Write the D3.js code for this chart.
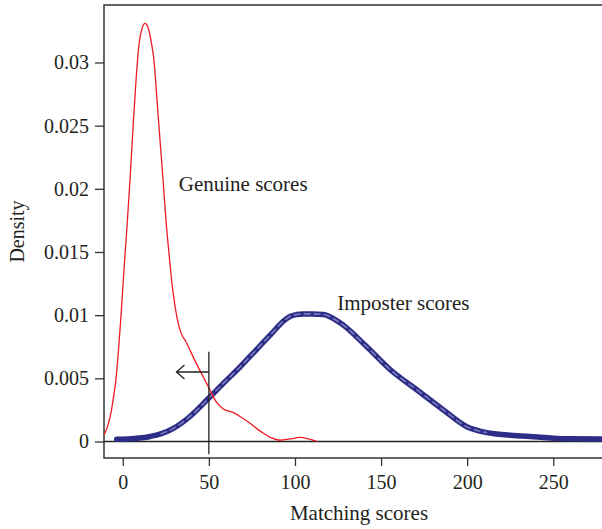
<!DOCTYPE html>
<html>
<head>
<meta charset="utf-8">
<script src="https://cdn.jsdelivr.net/npm/d3@7/dist/d3.min.js"></script>
<style>
  html, body { margin: 0; padding: 0; background: #fff; }
  svg { display: block; }
  text { font-family: "Liberation Serif", "DejaVu Serif", serif; fill: #231f20; }
</style>
</head>
<body>
<svg id="chart" width="602" height="529"></svg>
<script>
// ---- data ----
const genuineX = [-10.9, -8.6, -6.8, -5.4, -3.9, -2.5, -1.0, 0.7, 2.5, 4.2, 5.9, 7.7, 9.4, 11.2, 12.9, 14.6, 16.3, 18.1, 19.9, 21.6, 23.4, 25.1, 26.9, 29.2, 31.5, 33.8, 36.7, 41.9, 48.7, 54.5, 58.2, 64, 69, 73.9, 78, 81.7, 86, 91.3, 97, 103, 108, 112.7];
const genuineY = [0.0005, 0.0013, 0.0023, 0.0035, 0.005, 0.0072, 0.01, 0.0136, 0.0171, 0.0207, 0.0247, 0.0286, 0.0314, 0.0327, 0.0331, 0.0328, 0.0318, 0.0302, 0.027, 0.0239, 0.0207, 0.0175, 0.0148, 0.0118, 0.0098, 0.0086, 0.0079, 0.0064, 0.0046, 0.0031, 0.0026, 0.0023, 0.0019, 0.00144, 0.001, 0.00065, 0.0003, 0.0001, 0.0002, 0.00033, 0.0002, 0.0];

const imposterX = [-3.5, 5, 15.9, 22, 29.4, 39.2, 49.7, 58.4, 68.1, 77.8, 87.5, 93, 97.1, 101, 104.9, 110, 116.5, 126.2, 141.7, 155.2, 170.7, 186.2, 199.8, 211.4, 225, 238.4, 257.8, 280];
const imposterY = [0.00017, 0.00022, 0.0004, 0.0006, 0.00104, 0.002, 0.0034, 0.0046, 0.0059, 0.0073, 0.0087, 0.0095, 0.0099, 0.01005, 0.0101, 0.0101, 0.01005, 0.0094, 0.0075, 0.0057, 0.0041, 0.0025, 0.00117, 0.0007, 0.0005, 0.00038, 0.00022, 0.0002];

const xTicks = [0, 50, 100, 150, 200, 250];
const yTicks = [0, 0.005, 0.01, 0.015, 0.02, 0.025, 0.03];
const yTickLabels = ["0", "0.005", "0.01", "0.015", "0.02", "0.025", "0.03"];

const threshold = 50;
const thresholdRange = [-0.001, 0.0071];
const arrowY = 0.0055;
const arrowTo = 31.2;

const labels = [
  {text: "Genuine scores", x: 32.5, y: 0.0198},
  {text: "Imposter scores", x: 124.5, y: 0.0104}
];

// ---- scales ----
const svg = d3.select("#chart");
const mLeft = 104, mRight = 602, mTop = 5, mBottom = 458;
const x = d3.scaleLinear().domain([-10.9, 278.3]).range([mLeft, mRight]);
const y = d3.scaleLinear().domain([-0.001306, 0.03455]).range([mBottom, mTop]);

const axisColor = "#333";
const fontFam = '"Liberation Serif", serif';

// frame
svg.append("path")
  .attr("d", `M${mRight + 5},${mTop}H${mLeft}V${mBottom}H${mRight + 5}`)
  .attr("fill", "none").attr("stroke", axisColor).attr("stroke-width", 1.5);

// y axis
const yAxis = d3.axisLeft(y).tickValues(yTicks).tickSize(9).tickPadding(6)
  .tickFormat((d, i) => yTickLabels[i]);
const gy = svg.append("g").attr("transform", `translate(${mLeft},0)`).call(yAxis);
gy.select(".domain").remove();
gy.selectAll(".tick line").attr("stroke", axisColor).attr("stroke-width", 1.3);
gy.selectAll(".tick text").attr("font-size", 20).attr("fill", "#231f20")
  .style("font-family", fontFam);

// x axis
const xAxis = d3.axisBottom(x).tickValues(xTicks).tickSize(8).tickPadding(9);
const gx = svg.append("g").attr("transform", `translate(0,${mBottom})`).call(xAxis);
gx.select(".domain").remove();
gx.selectAll(".tick line").attr("stroke", axisColor).attr("stroke-width", 1.3);
gx.selectAll(".tick text").attr("font-size", 20).attr("fill", "#231f20")
  .style("font-family", fontFam);

// zero line
svg.append("line")
  .attr("x1", mLeft).attr("x2", mRight)
  .attr("y1", y(0)).attr("y2", y(0))
  .attr("stroke", "#222").attr("stroke-width", 1.3);

// imposter curve
const impData = imposterX.map((v, i) => [v, imposterY[i]]);
const line = d3.line().x(d => x(d[0])).y(d => y(d[1])).curve(d3.curveMonotoneX);
svg.append("path").datum(impData)
  .attr("d", line).attr("fill", "none")
  .attr("stroke", "#2d2d88").attr("stroke-width", 5.5)
  .attr("stroke-linecap", "round");
svg.append("path").datum(impData.filter(d => d[0] > 20 && d[0] < 215))
  .attr("d", line).attr("fill", "none")
  .attr("stroke", "#a0a0d0").attr("stroke-width", 1.6)
  .attr("stroke-dasharray", "7,3")
  .attr("opacity", 0.7);

// genuine curve
const genData = genuineX.map((v, i) => [v, genuineY[i]]);
svg.append("path").datum(genData)
  .attr("d", d3.line().x(d => x(d[0])).y(d => y(d[1])).curve(d3.curveMonotoneX))
  .attr("fill", "none").attr("stroke", "#ee1c25").attr("stroke-width", 1.3);

// threshold line
svg.append("line")
  .attr("x1", x(threshold)).attr("x2", x(threshold))
  .attr("y1", y(thresholdRange[0])).attr("y2", y(thresholdRange[1]))
  .attr("stroke", "#222").attr("stroke-width", 1.3);

// arrow
const ay = y(arrowY), ax0 = x(threshold), ax1 = x(arrowTo);
svg.append("line").attr("x1", ax0).attr("x2", ax1).attr("y1", ay).attr("y2", ay)
  .attr("stroke", "#222").attr("stroke-width", 1.3);
svg.append("path")
  .attr("d", `M${ax1 + 8},${ay - 7}L${ax1},${ay}L${ax1 + 8},${ay + 7}`)
  .attr("fill", "none").attr("stroke", "#222").attr("stroke-width", 1.3);

// labels
labels.forEach(l => {
  svg.append("text").attr("x", x(l.x)).attr("y", y(l.y))
    .attr("font-size", 21).text(l.text);
});

// axis titles
svg.append("text").attr("x", (mLeft + 602) / 2 + 6).attr("y", 520)
  .attr("text-anchor", "middle").attr("font-size", 21).text("Matching scores");
svg.append("text")
  .attr("transform", `translate(24,${(mTop + mBottom) / 2}) rotate(-90)`)
  .attr("text-anchor", "middle").attr("font-size", 20).text("Density");
</script>
</body>
</html>
